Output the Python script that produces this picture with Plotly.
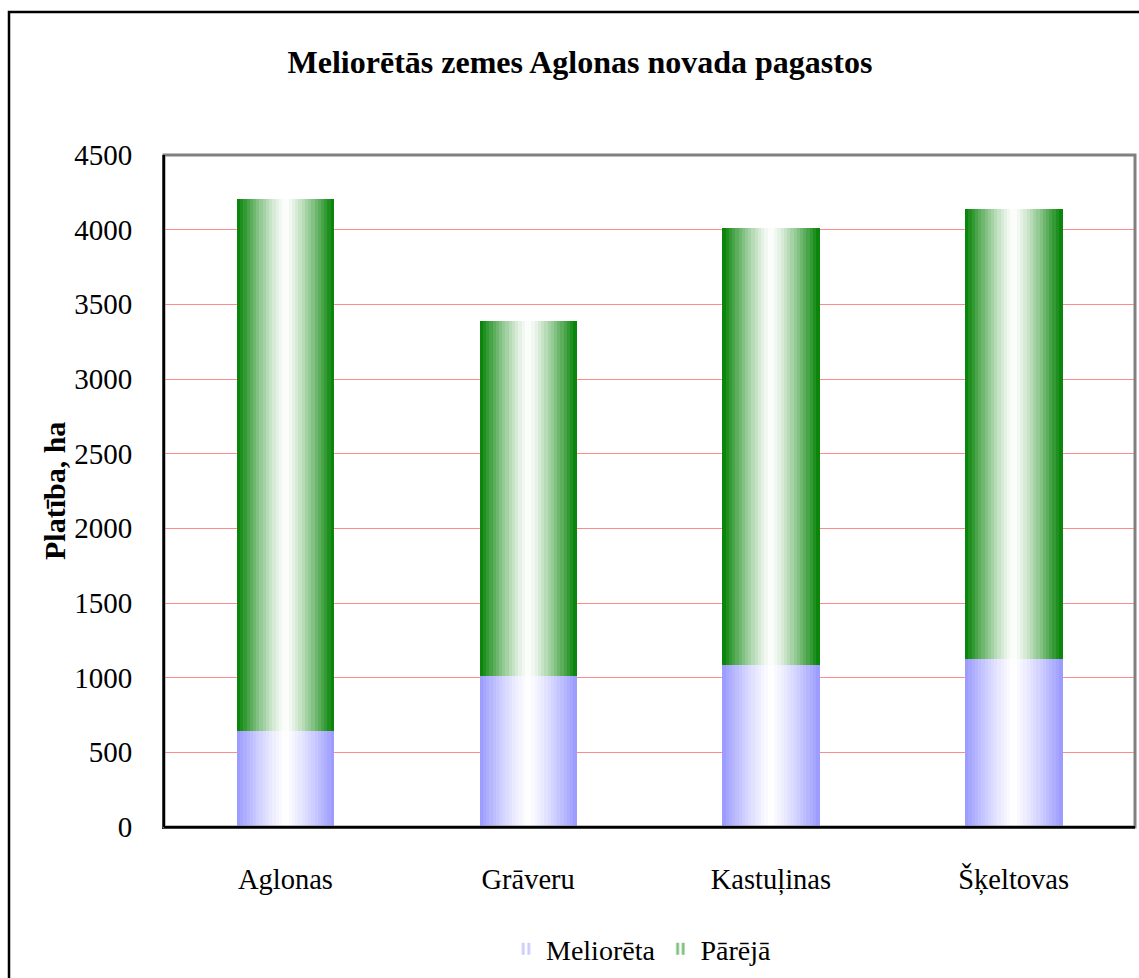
import plotly.graph_objects as go

# ---- data ----
categories = ["Aglonas", "Grāveru", "Kastuļinas", "Šķeltovas"]
melioreta = [645, 1010, 1083, 1123]
pareja = [3563, 2380, 2925, 3018]
series_names = ["Meliorēta", "Pārējā"]
y_ticks = [0, 500, 1000, 1500, 2000, 2500, 3000, 3500, 4000, 4500]

# ---- style ----
FONT = "Liberation Serif, Times New Roman, serif"
BLUE = (153, 153, 255)
GREEN = (0, 128, 0)
N_STRIPS = 30
BAR_W = 0.40
GAMMA = 1.25

W, H = 1139, 978
L, T, R, B = 164, 155, 4, 146
PW = W - L - R
PH = H - T - B


def mix(edge, d):
    a = d ** GAMMA
    return "rgb({},{},{})".format(*[round(255 * (1 - a) + c * a) for c in edge])


fig = go.Figure()

bases = {"Meliorēta": [0] * len(categories), "Pārējā": melioreta}
values = {"Meliorēta": melioreta, "Pārējā": pareja}
edges = {"Meliorēta": BLUE, "Pārējā": GREEN}

sw = BAR_W / N_STRIPS
for name in series_names:
    for i in range(N_STRIPS):
        center = (i + 0.5) / N_STRIPS
        d = abs(2 * center - 1)
        fig.add_trace(go.Bar(
            x=categories,
            y=values[name],
            base=bases[name],
            width=sw * 1.15,
            offset=-BAR_W / 2 + i * sw,
            marker=dict(color=mix(edges[name], d), line=dict(width=0)),
            showlegend=False,
            hoverinfo="skip",
        ))

# legend entries
for name in series_names:
    fig.add_trace(go.Bar(
        x=[categories[0]], y=[None], name=name,
        marker=dict(color="white", line=dict(width=0),
                    pattern=dict(shape="|", fgcolor="rgb({},{},{})".format(*edges[name]),
                                 bgcolor="white", size=7, solidity=0.5)),
        showlegend=True,
    ))

fig.update_layout(
    width=W, height=H,
    barmode="overlay",
    bargap=0,
    paper_bgcolor="white",
    plot_bgcolor="white",
    margin=dict(l=L, r=R, t=T, b=B),
    font=dict(family=FONT, size=28, color="black"),
    title=dict(
        text="<b>Meliorētās zemes Aglonas novada pagastos</b>",
        font=dict(family=FONT, size=32, color="black"),
        x=580 / W, xanchor="center", xref="container",
        y=1 - 62 / H, yanchor="middle", yref="container",
    ),
    xaxis=dict(
        type="category",
        range=[-0.5, 3.5],
        showgrid=False,
        showline=True, linecolor="black", linewidth=2,
        ticks="", ticklabelstandoff=26,
        tickfont=dict(family=FONT, size=28.5, color="black"),
    ),
    yaxis=dict(
        range=[0, 4500],
        tickvals=y_ticks,
        showgrid=True, gridcolor="#ff8c8c", gridwidth=1,
        showline=True, linecolor="black", linewidth=2,
        ticks="", ticklabelstandoff=24,
        zeroline=False,
        tickfont=dict(family=FONT, size=29, color="black"),
    ),
    legend=dict(
        orientation="h",
        x=(641 - L) / PW, xanchor="center",
        y=(832 - 955) / PH, yanchor="middle",
        font=dict(family=FONT, size=28, color="black"),
        itemwidth=30,
        bgcolor="rgba(0,0,0,0)",
    ),
    annotations=[dict(
        text="<b>Platība, ha</b>",
        textangle=-90,
        xref="paper", yref="paper",
        x=(54 - L) / PW, y=0.5,
        xanchor="center", yanchor="middle",
        showarrow=False,
        font=dict(family=FONT, size=30, color="black"),
    )],
    shapes=[
        # gray plot-area frame (top/right)
        dict(type="rect", xref="paper", yref="paper", x0=0, x1=1, y0=0, y1=1,
             line=dict(color="#808080", width=3), layer="above"),
        # black axes
        dict(type="line", xref="paper", yref="paper", x0=0, x1=0, y0=0, y1=1,
             line=dict(color="black", width=2), layer="above"),
        dict(type="line", xref="paper", yref="paper", x0=0, x1=1, y0=0, y1=0,
             line=dict(color="black", width=2), layer="above"),
        # outer chart border
        dict(type="rect", xref="paper", yref="paper",
             x0=(9 - L) / PW, x1=1.2, y0=-0.4, y1=(832 - 11) / PH,
             line=dict(color="black", width=2.5)),
    ],
)

fig.write_html(
    "out.html",
    config={"displayModeBar": False},
    post_script="document.body.style.margin='0';document.body.style.overflow='hidden';",
)
